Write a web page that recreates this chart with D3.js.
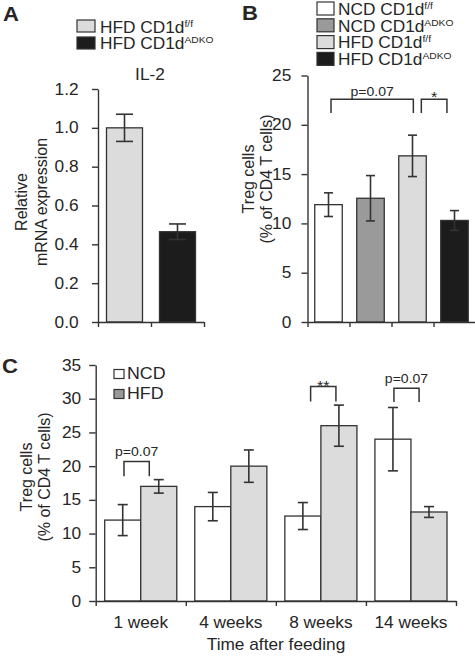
<!DOCTYPE html>
<html><head><meta charset="utf-8">
<script src="https://cdn.jsdelivr.net/npm/d3@7"></script>
<style>
body{margin:0;background:#fff}
svg{display:block}
text{font-family:"Liberation Sans",Arial,Helvetica,sans-serif;fill:#262626}
</style>
</head><body>
<svg id="chart" width="475" height="656"></svg>
<script>
// ---------- Panel A ----------
const aCategories = ["HFD CD1d f/f", "HFD CD1d ADKO"];
const aValues = [1.0, 0.465];
const aErrors = [0.07, 0.04];
const aTicks = [0, 0.2, 0.4, 0.6, 0.8, 1.0, 1.2];
const aTitle = "IL-2";

// ---------- Panel B ----------
const bCategories = ["NCD CD1d f/f", "NCD CD1d ADKO", "HFD CD1d f/f", "HFD CD1d ADKO"];
const bValues = [11.9, 12.55, 16.85, 10.3];
const bErrors = [1.2, 2.3, 2.1, 1.0];
const bTicks = [0, 5, 10, 15, 20, 25];

// ---------- Panel C ----------
const cCategories = ["1 week", "4 weeks", "8 weeks", "14 weeks"];
const cSeries = ["NCD", "HFD"];
const cNCD = [12.0, 14.0, 12.6, 24.0];
const cNCDErr = [2.3, 2.1, 2.0, 4.7];
const cHFD = [17.0, 20.0, 26.0, 13.2];
const cHFDErr = [1.0, 2.4, 3.05, 0.8];
const cTicks = [0, 5, 10, 15, 20, 25, 30, 35];

const SX = 1.08;
const INK = "#333";
const svg = d3.select("#chart");

function label(g, x, y, s, o = {}) {
  const t = g.append("text")
    .attr("transform", `translate(${x},${y}) scale(${o.sx || SX},1)`)
    .attr("font-size", o.size || 16)
    .attr("text-anchor", o.anchor || "start")
    .attr("font-weight", o.bold ? "bold" : null)
    .text(s);
  return t;
}
function vlabel(g, x, y, s, size) {
  g.append("text")
    .attr("transform", `translate(${x},${y}) rotate(-90)`)
    .attr("text-anchor", "middle").attr("dy", "0.35em")
    .attr("font-size", size || 16).text(s);
}
function legendText(g, x, y, main, sup, size) {
  const t = g.append("text")
    .attr("transform", `translate(${x},${y}) scale(${SX},1)`)
    .attr("font-size", size || 16);
  t.append("tspan").text(main);
  if (sup) t.append("tspan").attr("font-size", 9.5).attr("dy", -6).text(sup);
}
function styleAxis(ax) {
  ax.select(".domain").attr("stroke", INK).attr("stroke-width", 1.4);
  ax.selectAll(".tick line").attr("stroke", INK).attr("stroke-width", 1.4);
  ax.selectAll(".tick text")
    .attr("font-size", 16).attr("fill", "#262626")
    .attr("font-family", '"Liberation Sans",Arial,sans-serif')
    .attr("transform", `scale(${SX},1)`);
}
function errorBar(g, cx, yTop, yBot, half) {
  g.append("line").attr("x1", cx).attr("x2", cx).attr("y1", yTop).attr("y2", yBot)
    .attr("stroke", INK).attr("stroke-width", 1.6);
  [yTop, yBot].forEach(yy => g.append("line").attr("x1", cx - half).attr("x2", cx + half)
    .attr("y1", yy).attr("y2", yy).attr("stroke", INK).attr("stroke-width", 1.6));
}
function bracket(g, x1, x2, yTop, yLeg) {
  g.append("path").attr("d", `M${x1},${yLeg}V${yTop}H${x2}V${yLeg}`)
    .attr("fill", "none").attr("stroke", INK).attr("stroke-width", 1.5);
}

// ================= Panel A =================
(function () {
  const g = svg.append("g");
  const x = d3.scaleBand().domain(aCategories).range([98, 204]);
  const y = d3.scaleLinear().domain([0, 1.2]).range([322, 89]);
  const colors = ["#dcdcdc", "#1c1c1c"];
  const bw = 36;
  aCategories.forEach((c, i) => {
    const cx = x(c) + x.bandwidth() / 2;
    g.append("rect").attr("x", cx - bw / 2).attr("y", y(aValues[i]))
      .attr("width", bw).attr("height", y(0) - y(aValues[i]))
      .attr("fill", colors[i]).attr("stroke", INK).attr("stroke-width", 1.3);
    errorBar(g, cx, y(aValues[i] + aErrors[i]), y(aValues[i] - aErrors[i]), 8.5);
  });
  const ay = g.append("g").attr("transform", "translate(98,0)")
    .call(d3.axisLeft(y).tickValues(aTicks).tickFormat(d3.format(".1f"))
      .tickSize(6).tickSizeOuter(0).tickPadding(12));
  styleAxis(ay);
  const xl = d3.scaleLinear().domain([0, aCategories.length]).range([98, 204]);
  const ax = g.append("g").attr("transform", "translate(0,322)")
    .call(d3.axisBottom(xl).tickValues(d3.range(aCategories.length + 1))
      .tickFormat("").tickSize(5).tickSizeOuter(0));
  styleAxis(ax);
  label(g, 150, 80, aTitle, { anchor: "middle", size: 16 });
  vlabel(g, 21, 202, "Relative");
  vlabel(g, 41, 202, "mRNA expression");
  // legend
  const sup = ["f/f", "ADKO"];
  aCategories.forEach((c, i) => {
    g.append("rect").attr("x", 77).attr("y", 20 + i * 17).attr("width", 18).attr("height", 12)
      .attr("fill", colors[i]).attr("stroke", INK).attr("stroke-width", 1.2);
    legendText(g, 100, 32.5 + i * 16.5, c.split(" ").slice(0, 2).join(" "), sup[i]);
  });
  label(g, 3, 21, "A", { size: 21, bold: true, sx: 1.05 });
})();

// ================= Panel B =================
(function () {
  const g = svg.append("g");
  const x = d3.scaleBand().domain(bCategories).range([307.5, 475.5]);
  const y = d3.scaleLinear().domain([0, 25]).range([322, 75.5]);
  const colors = ["#ffffff", "#9a9a9a", "#dcdcdc", "#1c1c1c"];
  const bw = x.bandwidth() * 0.655;
  bCategories.forEach((c, i) => {
    const cx = x(c) + x.bandwidth() / 2;
    g.append("rect").attr("x", cx - bw / 2).attr("y", y(bValues[i]))
      .attr("width", bw).attr("height", y(0) - y(bValues[i]))
      .attr("fill", colors[i]).attr("stroke", INK).attr("stroke-width", 1.3);
    errorBar(g, cx, y(bValues[i] + bErrors[i]), y(bValues[i] - bErrors[i]), 4.5);
  });
  const ay = g.append("g").attr("transform", "translate(307.5,0)")
    .call(d3.axisLeft(y).tickValues(bTicks).tickSize(6).tickSizeOuter(0).tickPadding(9));
  styleAxis(ay);
  const xl = d3.scaleLinear().domain([0, bCategories.length]).range([307.5, 475.5]);
  const ax = g.append("g").attr("transform", "translate(0,322)")
    .call(d3.axisBottom(xl).tickValues(d3.range(bCategories.length + 1))
      .tickFormat("").tickSize(5).tickSizeOuter(0));
  styleAxis(ax);
  vlabel(g, 248, 179, "Treg cells");
  vlabel(g, 266, 179, "(% of CD4 T cells)");
  // significance brackets (band index + fraction of band)
  const bx = (i, f) => x(bCategories[i]) + f * x.bandwidth();
  bracket(g, bx(0, 0.56), bx(2, 0.52), y(22.6), y(21.2));
  label(g, (bx(0, 0.56) + bx(2, 0.52)) / 2, y(22.9), "p=0.07", { anchor: "middle", size: 13 });
  bracket(g, bx(2, 0.71), bx(3, 0.32), y(22.6), y(21.2));
  label(g, (bx(2, 0.71) + bx(3, 0.32)) / 2, y(22.3), "*", { anchor: "middle", size: 15 });
  // legend
  const sup = ["f/f", "ADKO", "f/f", "ADKO"];
  bCategories.forEach((c, i) => {
    g.append("rect").attr("x", 317).attr("y", 2 + i * 16.8).attr("width", 17).attr("height", 13)
      .attr("fill", colors[i]).attr("stroke", INK).attr("stroke-width", 1.2);
    legendText(g, 338, 15 + i * 16.7, c.split(" ").slice(0, 2).join(" "), sup[i]);
  });
  label(g, 242, 20, "B", { size: 21, bold: true, sx: 1.05 });
})();

// ================= Panel C =================
(function () {
  const g = svg.append("g");
  const x0 = d3.scaleBand().domain(cCategories).range([95.7, 456]);
  const x1 = d3.scaleBand().domain(cSeries).range([9, x0.bandwidth() - 9]);
  const y = d3.scaleLinear().domain([0, 35]).range([601, 365]);
  const fills = { NCD: "#ffffff", HFD: "#dcdcdc" };
  const vals = { NCD: cNCD, HFD: cHFD };
  const errs = { NCD: cNCDErr, HFD: cHFDErr };
  cCategories.forEach((c, i) => {
    cSeries.forEach(s => {
      const xx = x0(c) + x1(s);
      const v = vals[s][i];
      g.append("rect").attr("x", xx).attr("y", y(v))
        .attr("width", x1.bandwidth()).attr("height", y(0) - y(v))
        .attr("fill", fills[s]).attr("stroke", INK).attr("stroke-width", 1.3);
    });
  });
  cCategories.forEach((c, i) => {
    cSeries.forEach(s => {
      const cx = x0(c) + x1(s) + x1.bandwidth() / 2;
      const v = vals[s][i], e = errs[s][i];
      errorBar(g, cx, y(v + e), y(v - e), 5);
    });
  });
  const ay = g.append("g").attr("transform", "translate(95.7,0)")
    .call(d3.axisLeft(y).tickValues(cTicks).tickSize(6.5).tickSizeOuter(0).tickPadding(7));
  styleAxis(ay);
  const xl = d3.scaleLinear().domain([0, cCategories.length]).range([95.7, 456]);
  const ax = g.append("g").attr("transform", "translate(0,601)")
    .call(d3.axisBottom(xl).tickValues(d3.range(cCategories.length + 1))
      .tickFormat("").tickSize(5).tickSizeOuter(0));
  styleAxis(ax);
  cCategories.forEach(c => label(g, x0(c) + x0.bandwidth() / 2, 628, c, { anchor: "middle", size: 16 }));
  label(g, 276, 650, "Time after feeding", { anchor: "middle", size: 16 });
  vlabel(g, 26, 477, "Treg cells");
  vlabel(g, 44, 477, "(% of CD4 T cells)");
  // significance brackets: [category index, from frac, to frac, top value, leg value, text]
  const brackets = [
    [0, 0.314, 0.595, 20.7, 18.5, "p=0.07"],
    [2, 0.386, 0.667, 31.8, 29.6, "**"],
    [3, 0.311, 0.590, 31.55, 29.5, "p=0.07"]
  ];
  brackets.forEach(b => {
    const bx1 = x0(cCategories[b[0]]) + b[1] * x0.bandwidth();
    const bx2 = x0(cCategories[b[0]]) + b[2] * x0.bandwidth();
    bracket(g, bx1, bx2, y(b[3]), y(b[4]));
    if (b[5] === "**") label(g, (bx1 + bx2) / 2, y(b[3]) + 4, b[5], { anchor: "middle", size: 15 });
    else label(g, (bx1 + bx2) / 2, y(b[3]) - 5.5, b[5], { anchor: "middle", size: 13 });
  });
  // legend
  const legFill = { NCD: "#ffffff", HFD: "#999999" };
  cSeries.forEach((s, i) => {
    g.append("rect").attr("x", 114).attr("y", 369.5 + i * 20).attr("width", 10).attr("height", 9)
      .attr("fill", legFill[s]).attr("stroke", INK).attr("stroke-width", 1.2);
    label(g, 127, 379 + i * 20, s, { size: 16.5 });
  });
  label(g, 2, 373, "C", { size: 21, bold: true, sx: 1.05 });
})();
</script>
</body></html>
